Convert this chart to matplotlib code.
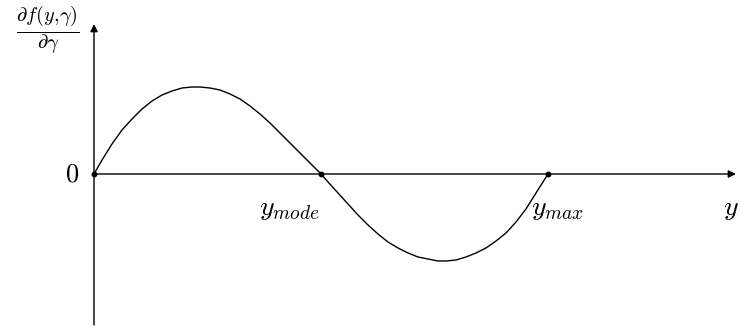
"""Sign of the score derivative with respect to gamma."""

import matplotlib.pyplot as plt

plt.rcParams["mathtext.fontset"] = "cm"
plt.rcParams["font.family"] = "serif"
plt.rcParams["font.serif"] = ["DejaVu Serif"]

# Curve samples: y position and derivative value (arbitrary units)
curve_x = [0.00, 0.08, 0.18, 0.28, 0.38, 0.48, 0.58, 0.68, 0.78, 0.88,
           0.98, 1.06, 1.16, 1.26, 1.36, 1.46, 1.56, 1.66, 1.76, 1.86,
           1.96, 2.06, 2.16, 2.27, 2.34, 2.44, 2.54, 2.64, 2.74, 2.84,
           2.94, 3.04, 3.14, 3.24, 3.34, 3.44, 3.52, 3.62, 3.72, 3.82,
           3.92, 4.02, 4.12, 4.22, 4.32, 4.42, 4.54]
curve_y = [0.00, 0.14, 0.30, 0.44, 0.55, 0.65, 0.73, 0.79, 0.83, 0.86,
           0.87, 0.87, 0.86, 0.84, 0.80, 0.75, 0.68, 0.60, 0.51, 0.41,
           0.31, 0.21, 0.11, 0.00, -0.08, -0.19, -0.30, -0.41, -0.51,
           -0.60, -0.68, -0.74, -0.79, -0.83, -0.85, -0.87, -0.87, -0.86,
           -0.83, -0.79, -0.74, -0.67, -0.59, -0.48, -0.35, -0.19, 0.00]

y_mode = 2.27
y_max = 4.54
marked_x = [0.0, y_mode, y_max]

fig = plt.figure(figsize=(7.41, 3.28), dpi=100)
ax = fig.add_axes([0, 0, 1, 1])
ax.set_xlim(-0.94, 6.47)
ax.set_ylim(-1.54, 1.74)
ax.axis("off")

arrow = dict(arrowstyle="-|>", lw=1.0, color="black", mutation_scale=11,
             shrinkA=0, shrinkB=0)
ax.annotate("", xy=(6.42, 0), xytext=(0, 0), arrowprops=arrow)
ax.annotate("", xy=(0, 1.50), xytext=(0, -1.51), arrowprops=arrow)

ax.plot(curve_x, curve_y, color="black", lw=1.0)
ax.plot(marked_x, [0] * len(marked_x), "o", color="black", ms=3.2)

ax.text(-0.15, 0, "$0$", fontsize=19, ha="right", va="center")
ax.text(y_mode - 0.62, -0.34, r"$y_{mode}$", fontsize=20, ha="left",
        va="center")
ax.text(y_max - 0.17, -0.34, r"$y_{max}$", fontsize=20, ha="left",
        va="center")
ax.text(6.29, -0.34, "$y$", fontsize=20, ha="left", va="center")
ax.text(-0.46, 1.43, r"$\frac{\partial f(y{,}\gamma)}{\partial \gamma}$",
        fontsize=21, ha="center", va="center")

fig.savefig("out.png", dpi=100)
